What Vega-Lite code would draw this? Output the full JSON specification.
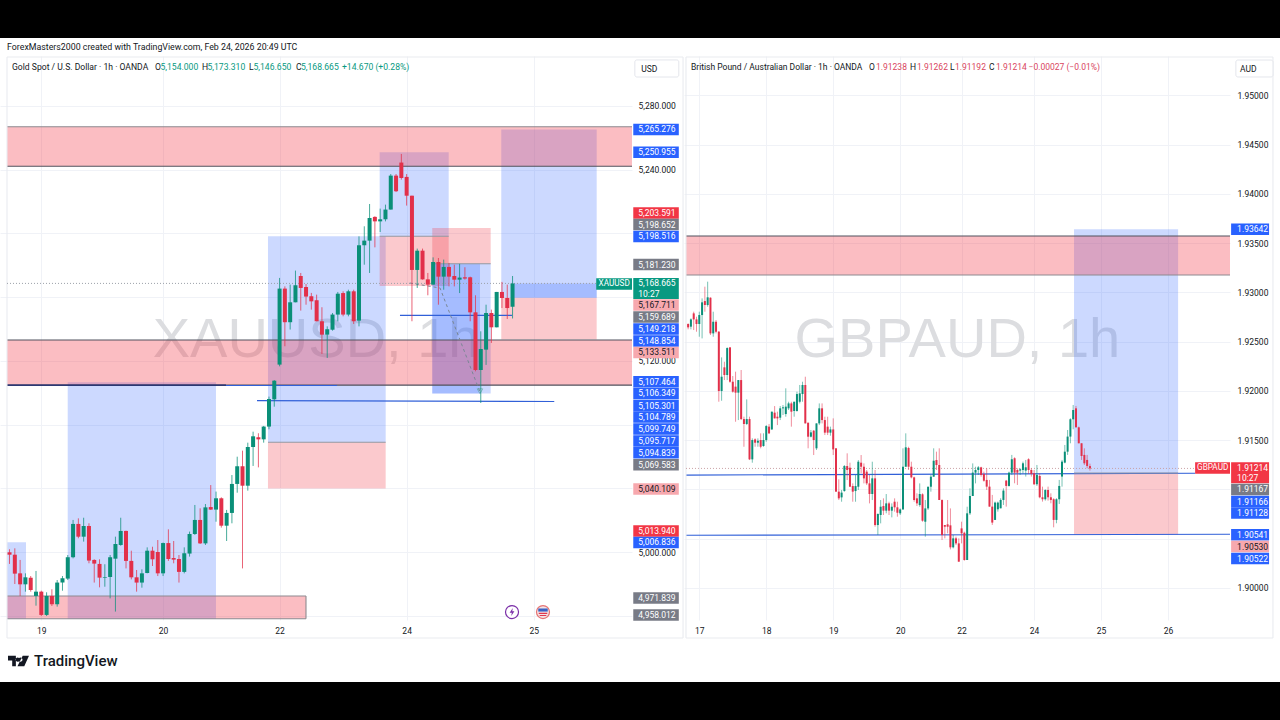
{
"$schema":"https://vega.github.io/schema/vega-lite/v6.json",
"background":"#ffffff",
"padding":0,
"spacing":0,
"config":{"view":{"stroke":null},"font":"Roboto","axis":{"domain":false,"ticks":false,"gridColor":"#f0f2f7","gridWidth":1,"labelColor":"#131722","labelFont":"Roboto","labelFontSize":8.5}},
"datasets":{
"gold":[
{"t":-6,"o":4999.9,"h":5001.8,"l":4992.6,"c":4998.4},{"t":-5,"o":4998.4,"h":5002.4,"l":4980.0,"c":4986.5},{"t":-4,"o":4986.7,"h":4995.1,"l":4972.5,"c":4979.8},{"t":-3,"o":4979.8,"h":4986.7,"l":4975.2,"c":4984.2},{"t":-2,"o":4984.0,"h":4985.0,"l":4975.2,"c":4976.3},{"t":-1,"o":4972.5,"h":4988.2,"l":4966.4,"c":4975.2},
{"t":0,"o":4975.2,"h":4975.8,"l":4959.9,"c":4960.6},{"t":1,"o":4960.6,"h":4974.8,"l":4959.9,"c":4972.5},{"t":2,"o":4972.5,"h":4976.7,"l":4966.2,"c":4967.3},{"t":3,"o":4967.3,"h":4982.5,"l":4965.8,"c":4980.9},{"t":4,"o":4980.9,"h":4985.0,"l":4975.8,"c":4983.6},{"t":5,"o":4983.4,"h":4998.2,"l":4982.5,"c":4996.8},{"t":6,"o":4996.8,"h":5020.2,"l":4996.1,"c":5017.7},{"t":7,"o":5017.7,"h":5021.2,"l":5008.7,"c":5009.7},{"t":8,"o":5009.7,"h":5021.6,"l":5006.6,"c":5016.4},{"t":9,"o":5016.4,"h":5018.1,"l":4993.0,"c":4994.7},
{"t":10,"o":4995.1,"h":4995.5,"l":4980.9,"c":4992.8},{"t":11,"o":4992.6,"h":4995.5,"l":4977.9,"c":4984.0},{"t":12,"o":4984.0,"h":4992.4,"l":4978.3,"c":4984.4},{"t":13,"o":4984.4,"h":4998.2,"l":4971.0,"c":4996.8},{"t":14,"o":4995.9,"h":5009.7,"l":4962.7,"c":5005.1},{"t":15,"o":5004.5,"h":5021.6,"l":5004.0,"c":5013.3},{"t":16,"o":5013.3,"h":5013.5,"l":4989.8,"c":4994.5},{"t":17,"o":4994.5,"h":5000.9,"l":4982.9,"c":4984.2},{"t":18,"o":4984.2,"h":4988.8,"l":4975.2,"c":4980.9},{"t":19,"o":4980.9,"h":4989.2,"l":4977.7,"c":4986.7},
{"t":20,"o":4986.9,"h":5003.0,"l":4986.7,"c":5000.9},{"t":21,"o":5000.9,"h":5003.4,"l":4991.3,"c":4995.5},{"t":22,"o":5000.1,"h":5007.6,"l":4985.0,"c":4986.7},{"t":23,"o":4986.7,"h":5006.0,"l":4985.0,"c":5005.7},{"t":24,"o":5005.7,"h":5014.3,"l":4994.5,"c":4995.7},{"t":25,"o":4996.3,"h":5007.0,"l":4993.0,"c":4995.3},{"t":26,"o":4995.7,"h":4998.2,"l":4980.9,"c":4987.6},{"t":27,"o":4987.6,"h":5003.0,"l":4986.7,"c":4999.3},{"t":28,"o":4999.1,"h":5012.9,"l":4997.2,"c":5011.4},{"t":29,"o":5011.4,"h":5029.6,"l":5010.8,"c":5020.2},
{"t":30,"o":5020.2,"h":5027.5,"l":5005.1,"c":5005.5},{"t":31,"o":5005.5,"h":5030.2,"l":5004.5,"c":5028.1},{"t":32,"o":5028.3,"h":5042.1,"l":5026.5,"c":5026.7},{"t":33,"o":5026.7,"h":5038.0,"l":5019.1,"c":5033.8},{"t":34,"o":5033.8,"h":5034.4,"l":5015.4,"c":5016.6},{"t":35,"o":5016.6,"h":5026.5,"l":5007.0,"c":5024.6},{"t":36,"o":5024.6,"h":5048.4,"l":5018.1,"c":5042.8},{"t":37,"o":5042.8,"h":5059.9,"l":5037.3,"c":5053.9},{"t":38,"o":5053.9,"h":5063.7,"l":4989.8,"c":5041.7},{"t":39,"o":5041.7,"h":5068.7,"l":5038.6,"c":5066.0},
{"t":40,"o":5066.0,"h":5075.6,"l":5054.1,"c":5072.7},{"t":41,"o":5072.1,"h":5074.6,"l":5053.2,"c":5070.8},{"t":42,"o":5070.8,"h":5079.2,"l":5068.7,"c":5078.8},{"t":43,"o":5078.8,"h":5097.6,"l":5077.1,"c":5096.1},{"t":44,"o":5095.9,"h":5108.0,"l":5091.3,"c":5107.6},{"t":45,"o":5117.7,"h":5172.1,"l":5116.6,"c":5165.4},{"t":46,"o":5165.4,"h":5166.8,"l":5129.2,"c":5144.3},{"t":47,"o":5144.3,"h":5167.9,"l":5139.7,"c":5156.8},{"t":48,"o":5156.8,"h":5176.7,"l":5156.8,"c":5167.5},{"t":49,"o":5173.3,"h":5175.2,"l":5151.6,"c":5165.8},
{"t":50,"o":5166.4,"h":5168.3,"l":5155.3,"c":5160.4},{"t":51,"o":5160.6,"h":5162.7,"l":5152.2,"c":5157.4},{"t":52,"o":5158.1,"h":5161.6,"l":5144.9,"c":5144.9},{"t":53,"o":5144.9,"h":5153.7,"l":5124.4,"c":5136.5},{"t":54,"o":5136.5,"h":5141.7,"l":5121.9,"c":5139.9},{"t":55,"o":5139.6,"h":5150.1,"l":5139.0,"c":5149.1},{"t":56,"o":5149.1,"h":5163.3,"l":5144.9,"c":5162.2},{"t":57,"o":5162.6,"h":5163.7,"l":5148.0,"c":5149.1},{"t":58,"o":5149.1,"h":5164.7,"l":5148.0,"c":5163.7},{"t":59,"o":5163.7,"h":5164.7,"l":5143.2,"c":5144.9},
{"t":60,"o":5145.3,"h":5198.2,"l":5141.7,"c":5192.6},{"t":61,"o":5192.6,"h":5204.5,"l":5180.4,"c":5195.5},{"t":62,"o":5195.5,"h":5218.5,"l":5175.2,"c":5209.7},{"t":63,"o":5210.4,"h":5210.8,"l":5191.3,"c":5207.6},{"t":64,"o":5207.6,"h":5215.6,"l":5200.9,"c":5208.9},{"t":65,"o":5208.9,"h":5218.1,"l":5207.6,"c":5215.0},{"t":66,"o":5215.0,"h":5237.3,"l":5215.0,"c":5236.3},{"t":67,"o":5236.3,"h":5237.3,"l":5226.0,"c":5226.5},{"t":68,"o":5244.5,"h":5249.9,"l":5233.8,"c":5234.8},{"t":69,"o":5235.5,"h":5237.3,"l":5217.5,"c":5223.7},
{"t":70,"o":5223.7,"h":5223.7,"l":5144.9,"c":5177.1},{"t":71,"o":5177.1,"h":5190.5,"l":5165.8,"c":5189.2},{"t":72,"o":5189.2,"h":5190.5,"l":5171.0,"c":5171.2},{"t":73,"o":5171.2,"h":5175.2,"l":5161.2,"c":5167.9},{"t":74,"o":5167.9,"h":5185.0,"l":5167.9,"c":5182.1},{"t":75,"o":5182.1,"h":5184.6,"l":5155.3,"c":5172.9},{"t":76,"o":5172.9,"h":5183.6,"l":5164.7,"c":5179.0},{"t":77,"o":5179.0,"h":5181.5,"l":5166.8,"c":5172.9},{"t":78,"o":5173.3,"h":5180.4,"l":5166.8,"c":5171.0},{"t":79,"o":5171.0,"h":5180.9,"l":5162.6,"c":5172.3},
{"t":80,"o":5172.5,"h":5178.8,"l":5171.0,"c":5171.7},{"t":81,"o":5172.5,"h":5172.9,"l":5144.9,"c":5150.5},{"t":82,"o":5150.5,"h":5161.2,"l":5113.5,"c":5114.3},{"t":83,"o":5114.3,"h":5138.6,"l":5093.6,"c":5127.5},{"t":84,"o":5127.1,"h":5155.3,"l":5117.5,"c":5150.1},{"t":85,"o":5150.1,"h":5152.2,"l":5131.3,"c":5141.1},{"t":86,"o":5141.1,"h":5163.3,"l":5141.1,"c":5163.3},{"t":87,"o":5163.3,"h":5169.6,"l":5153.2,"c":5159.5},{"t":88,"o":5159.5,"h":5167.9,"l":5146.3,"c":5153.2},{"t":89,"o":5154.0,"h":5173.31,"l":5146.65,"c":5168.665}
],
"gbp":[
{"t":-4,"o":1.9268,"h":1.92687,"l":1.92626,"c":1.92646},{"t":-3,"o":1.92653,"h":1.92737,"l":1.92626,"c":1.92727},{"t":-2,"o":1.92788,"h":1.92805,"l":1.92619,"c":1.92727},{"t":-1,"o":1.92727,"h":1.92754,"l":1.92602,"c":1.9268},
{"t":0,"o":1.9268,"h":1.92805,"l":1.92551,"c":1.92771},{"t":1,"o":1.92771,"h":1.9294,"l":1.92534,"c":1.929},{"t":2,"o":1.92913,"h":1.93059,"l":1.92805,"c":1.92873},{"t":3,"o":1.92873,"h":1.9311,"l":1.92856,"c":1.92951},{"t":4,"o":1.92947,"h":1.92951,"l":1.92568,"c":1.92585},{"t":5,"o":1.92585,"h":1.92805,"l":1.92551,"c":1.92703},{"t":6,"o":1.92703,"h":1.9272,"l":1.92585,"c":1.92602},{"t":7,"o":1.92602,"h":1.92609,"l":1.91891,"c":1.92},{"t":8,"o":1.92,"h":1.92341,"l":1.91901,"c":1.92145},{"t":9,"o":1.9224,"h":1.92297,"l":1.92111,"c":1.92162},
{"t":10,"o":1.92162,"h":1.92443,"l":1.92111,"c":1.92436},{"t":11,"o":1.92443,"h":1.92443,"l":1.92084,"c":1.92094},{"t":12,"o":1.92094,"h":1.92152,"l":1.91983,"c":1.91993},{"t":13,"o":1.92044,"h":1.92196,"l":1.91688,"c":1.91983},{"t":14,"o":1.91983,"h":1.92111,"l":1.91705,"c":1.92111},{"t":15,"o":1.92111,"h":1.92213,"l":1.91705,"c":1.91715},{"t":16,"o":1.91715,"h":1.91739,"l":1.91434,"c":1.91665},{"t":17,"o":1.91665,"h":1.91915,"l":1.91654,"c":1.91715},{"t":18,"o":1.91715,"h":1.91739,"l":1.91299,"c":1.91306},{"t":19,"o":1.91306,"h":1.91519,"l":1.91272,"c":1.91502},
{"t":20,"o":1.91509,"h":1.91519,"l":1.91434,"c":1.91475},{"t":21,"o":1.91475,"h":1.91519,"l":1.91434,"c":1.91495},{"t":22,"o":1.91502,"h":1.9157,"l":1.91418,"c":1.91434},{"t":23,"o":1.91441,"h":1.9157,"l":1.91434,"c":1.91502},{"t":24,"o":1.91502,"h":1.91654,"l":1.91485,"c":1.91644},{"t":25,"o":1.91638,"h":1.91665,"l":1.91563,"c":1.9157},{"t":26,"o":1.9161,"h":1.9179,"l":1.91604,"c":1.9179},{"t":27,"o":1.9178,"h":1.91847,"l":1.91722,"c":1.91722},{"t":28,"o":1.91739,"h":1.9179,"l":1.91654,"c":1.91722},{"t":29,"o":1.91729,"h":1.91847,"l":1.91705,"c":1.91824},
{"t":30,"o":1.91824,"h":1.91857,"l":1.91756,"c":1.91834},{"t":31,"o":1.91766,"h":1.92027,"l":1.91739,"c":1.91841},{"t":32,"o":1.91824,"h":1.91891,"l":1.91807,"c":1.91874},{"t":33,"o":1.91874,"h":1.91891,"l":1.91638,"c":1.9179},{"t":34,"o":1.91797,"h":1.91891,"l":1.91739,"c":1.91891},{"t":35,"o":1.91797,"h":1.91993,"l":1.9179,"c":1.91969},{"t":36,"o":1.91891,"h":1.92061,"l":1.91874,"c":1.91976},{"t":37,"o":1.91969,"h":1.92094,"l":1.91891,"c":1.92061},{"t":38,"o":1.92061,"h":1.92145,"l":1.91671,"c":1.91671},{"t":39,"o":1.91678,"h":1.91678,"l":1.91418,"c":1.91536},
{"t":40,"o":1.91536,"h":1.91604,"l":1.91529,"c":1.9158},{"t":41,"o":1.91597,"h":1.91604,"l":1.9135,"c":1.91502},{"t":42,"o":1.91418,"h":1.91671,"l":1.91401,"c":1.91671},{"t":43,"o":1.91671,"h":1.91874,"l":1.91654,"c":1.91824},{"t":44,"o":1.91824,"h":1.91874,"l":1.91671,"c":1.91705},{"t":45,"o":1.91705,"h":1.91739,"l":1.91553,"c":1.91577},{"t":46,"o":1.91638,"h":1.91739,"l":1.91553,"c":1.91577},{"t":47,"o":1.91577,"h":1.91638,"l":1.91546,"c":1.9161},{"t":48,"o":1.9161,"h":1.91722,"l":1.9135,"c":1.91407},{"t":49,"o":1.91418,"h":1.91418,"l":1.90978,"c":1.90978},
{"t":50,"o":1.90978,"h":1.91103,"l":1.90893,"c":1.9091},{"t":51,"o":1.9092,"h":1.90995,"l":1.90876,"c":1.90968},{"t":52,"o":1.90984,"h":1.91248,"l":1.90978,"c":1.91238},{"t":53,"o":1.91238,"h":1.91367,"l":1.91096,"c":1.91198},{"t":54,"o":1.91221,"h":1.91272,"l":1.91028,"c":1.91028},{"t":55,"o":1.91035,"h":1.91062,"l":1.90876,"c":1.90978},{"t":56,"o":1.90984,"h":1.91147,"l":1.90876,"c":1.91035},{"t":57,"o":1.91028,"h":1.91299,"l":1.90995,"c":1.91282},{"t":58,"o":1.91272,"h":1.9135,"l":1.91164,"c":1.91231},{"t":59,"o":1.91231,"h":1.91265,"l":1.91062,"c":1.91113},
{"t":60,"o":1.91181,"h":1.91198,"l":1.91045,"c":1.91062},{"t":61,"o":1.91062,"h":1.91147,"l":1.90859,"c":1.90954},{"t":62,"o":1.90954,"h":1.91282,"l":1.90893,"c":1.91113},{"t":63,"o":1.91113,"h":1.91198,"l":1.90622,"c":1.90639},{"t":64,"o":1.90639,"h":1.90758,"l":1.90538,"c":1.90751},{"t":65,"o":1.90741,"h":1.90893,"l":1.90656,"c":1.90825},{"t":66,"o":1.90832,"h":1.9091,"l":1.90741,"c":1.90785},{"t":67,"o":1.90785,"h":1.90954,"l":1.90758,"c":1.90859},{"t":68,"o":1.90859,"h":1.90876,"l":1.90741,"c":1.90785},{"t":69,"o":1.90785,"h":1.90859,"l":1.90717,"c":1.90825},
{"t":70,"o":1.90876,"h":1.9091,"l":1.90775,"c":1.90819},{"t":71,"o":1.90819,"h":1.90876,"l":1.90724,"c":1.90764},{"t":72,"o":1.90758,"h":1.90808,"l":1.90741,"c":1.90798},{"t":73,"o":1.90798,"h":1.91418,"l":1.90792,"c":1.91231},{"t":74,"o":1.91231,"h":1.9157,"l":1.91231,"c":1.91428},{"t":75,"o":1.91421,"h":1.91434,"l":1.91198,"c":1.91231},{"t":76,"o":1.91231,"h":1.91282,"l":1.91113,"c":1.91123},{"t":77,"o":1.91123,"h":1.9113,"l":1.90876,"c":1.90893},{"t":78,"o":1.9091,"h":1.90961,"l":1.90832,"c":1.90859},{"t":79,"o":1.90842,"h":1.91062,"l":1.90825,"c":1.90954},
{"t":80,"o":1.90951,"h":1.90961,"l":1.90673,"c":1.90683},{"t":81,"o":1.90673,"h":1.90893,"l":1.90521,"c":1.90808},{"t":82,"o":1.90808,"h":1.91028,"l":1.90792,"c":1.91028},{"t":83,"o":1.91028,"h":1.91147,"l":1.90978,"c":1.9113},{"t":84,"o":1.9113,"h":1.91418,"l":1.9113,"c":1.91292},{"t":85,"o":1.91299,"h":1.91384,"l":1.91198,"c":1.91248},{"t":86,"o":1.91248,"h":1.91418,"l":1.90893,"c":1.90893},{"t":87,"o":1.90893,"h":1.909,"l":1.90487,"c":1.90538},{"t":88,"o":1.90639,"h":1.90639,"l":1.90504,"c":1.90622},{"t":89,"o":1.90646,"h":1.90893,"l":1.90555,"c":1.90622},
{"t":90,"o":1.90636,"h":1.90808,"l":1.90392,"c":1.90413},{"t":91,"o":1.90413,"h":1.90538,"l":1.90402,"c":1.90504},{"t":92,"o":1.90504,"h":1.90521,"l":1.90436,"c":1.90453},{"t":93,"o":1.90453,"h":1.90504,"l":1.90267,"c":1.90267},{"t":94,"o":1.90605,"h":1.90673,"l":1.90453,"c":1.90555},{"t":95,"o":1.90561,"h":1.90572,"l":1.90277,"c":1.90284},{"t":96,"o":1.90284,"h":1.90825,"l":1.90284,"c":1.90758},{"t":97,"o":1.90758,"h":1.91012,"l":1.90741,"c":1.90934},{"t":98,"o":1.90934,"h":1.91265,"l":1.90934,"c":1.91171},{"t":99,"o":1.91171,"h":1.91231,"l":1.91062,"c":1.91198},
{"t":100,"o":1.91198,"h":1.91238,"l":1.91147,"c":1.91225},{"t":101,"o":1.91225,"h":1.91231,"l":1.9113,"c":1.91147},{"t":102,"o":1.91157,"h":1.91181,"l":1.91079,"c":1.91089},{"t":103,"o":1.91097,"h":1.91215,"l":1.90995,"c":1.91029},{"t":104,"o":1.91029,"h":1.91097,"l":1.90826,"c":1.90826},{"t":105,"o":1.90826,"h":1.90945,"l":1.9064,"c":1.90664},{"t":106,"o":1.90691,"h":1.90877,"l":1.90691,"c":1.90867},{"t":107,"o":1.90799,"h":1.90877,"l":1.90775,"c":1.90867},{"t":108,"o":1.90809,"h":1.90911,"l":1.90809,"c":1.90894},{"t":109,"o":1.90894,"h":1.91012,"l":1.90843,"c":1.90989},
{"t":110,"o":1.9109,"h":1.91097,"l":1.90826,"c":1.91036},{"t":111,"o":1.91036,"h":1.91181,"l":1.91029,"c":1.91171},{"t":112,"o":1.91171,"h":1.91351,"l":1.91148,"c":1.91307},{"t":113,"o":1.91317,"h":1.91327,"l":1.91063,"c":1.91171},{"t":114,"o":1.91198,"h":1.91215,"l":1.91046,"c":1.91171},{"t":115,"o":1.91192,"h":1.91215,"l":1.91148,"c":1.91205},{"t":116,"o":1.91198,"h":1.91283,"l":1.91164,"c":1.91266},{"t":117,"o":1.91192,"h":1.913,"l":1.91131,"c":1.91225},{"t":118,"o":1.91307,"h":1.91317,"l":1.91158,"c":1.91198},{"t":119,"o":1.91198,"h":1.91215,"l":1.91131,"c":1.91158},
{"t":120,"o":1.91164,"h":1.91198,"l":1.91046,"c":1.91053},{"t":121,"o":1.91053,"h":1.91249,"l":1.91036,"c":1.91148},{"t":122,"o":1.91137,"h":1.91164,"l":1.90911,"c":1.90921},{"t":123,"o":1.90921,"h":1.91029,"l":1.90877,"c":1.90901},{"t":124,"o":1.90901,"h":1.91002,"l":1.90887,"c":1.90995},{"t":125,"o":1.90995,"h":1.91029,"l":1.90887,"c":1.90921},{"t":126,"o":1.90921,"h":1.90961,"l":1.9086,"c":1.90894},{"t":127,"o":1.90901,"h":1.90911,"l":1.90616,"c":1.90691},{"t":128,"o":1.90691,"h":1.90911,"l":1.90657,"c":1.90901},{"t":129,"o":1.90901,"h":1.91097,"l":1.90853,"c":1.91036},
{"t":130,"o":1.91131,"h":1.913,"l":1.91029,"c":1.91283},{"t":131,"o":1.91273,"h":1.91452,"l":1.91266,"c":1.91384},{"t":132,"o":1.91384,"h":1.91604,"l":1.91351,"c":1.91537},{"t":133,"o":1.91537,"h":1.91723,"l":1.91469,"c":1.91713},{"t":134,"o":1.91713,"h":1.91858,"l":1.91611,"c":1.91807},{"t":135,"o":1.91824,"h":1.91848,"l":1.91631,"c":1.91631},{"t":136,"o":1.91631,"h":1.91638,"l":1.91469,"c":1.91469},{"t":137,"o":1.91469,"h":1.91469,"l":1.913,"c":1.9134},{"t":138,"o":1.91351,"h":1.91418,"l":1.91249,"c":1.91266},{"t":139,"o":1.913,"h":1.91351,"l":1.91215,"c":1.91239},{"t":140,"o":1.91238,"h":1.91262,"l":1.91192,"c":1.91214}
],
"goldSupply":[{"t":-6.48,"t2":111.56,"p":5267,"p2":5242.2},{"t":-6.48,"t2":111.56,"p":5133.1,"p2":5104.8},{"t":-6.48,"t2":49.99,"p":4972.5,"p2":4958.2}],
"goldBoxes":[
{"t":-6.48,"t2":-2.89,"p":5006.2,"p2":4958,"kind":"target"},
{"t":4.99,"t2":32.99,"p":5106.6,"p2":4958,"kind":"target"},
{"t":42.81,"t2":65.04,"p":5198.3,"p2":5069,"kind":"target"},
{"t":42.81,"t2":65.04,"p":5069,"p2":5040,"kind":"stop"},
{"t":63.9,"t2":76.94,"p":5250.9,"p2":5198.3,"kind":"target"},
{"t":63.9,"t2":76.94,"p":5198.3,"p2":5167,"kind":"stop"},
{"t":73.84,"t2":84.87,"p":5203.5,"p2":5181,"kind":"stop"},
{"t":73.84,"t2":84.87,"p":5181,"p2":5099.5,"kind":"target"},
{"t":73.84,"t2":82.85,"p":5181,"p2":5099.5,"kind":"target"},
{"t":86.87,"t2":104.89,"p":5265.2,"p2":5159.7,"kind":"target"},
{"t":86.87,"t2":104.89,"p":5159.7,"p2":5133.5,"kind":"stop"},
{"t":88.89,"t2":104.89,"p":5168.6,"p2":5159.7,"kind":"target"}
],
"goldLines":[
{"t":-6.48,"t2":111.56,"p":5267,"p2":5267,"kind":"soft"},
{"t":-6.48,"t2":111.56,"p":5242.2,"p2":5242.2,"kind":"edge"},
{"t":-6.48,"t2":111.56,"p":5133.1,"p2":5133.1,"kind":"edge"},
{"t":-6.48,"t2":111.56,"p":5104.8,"p2":5104.8,"kind":"edge"},
{"t":-6.48,"t2":49.99,"p":4972.5,"p2":4972.5,"kind":"soft"},
{"t":-6.48,"t2":49.99,"p":4958.2,"p2":4958.2,"kind":"soft"},
{"t":49.99,"t2":49.99,"p":4972.5,"p2":4958.2,"kind":"soft"},
{"t":-6.48,"t2":34.88,"p":5104.8,"p2":5104.8,"kind":"navy"},
{"t":34.88,"t2":55.85,"p":5104.6,"p2":5104.6,"kind":"blue"},
{"t":40.74,"t2":96.88,"p":5095.1,"p2":5094.5,"kind":"blue"},
{"t":67.74,"t2":88.89,"p":5148.6,"p2":5148.6,"kind":"blue"},
{"t":42.81,"t2":65.04,"p":5069,"p2":5069,"kind":"gray"},
{"t":63.9,"t2":76.94,"p":5198.3,"p2":5198.3,"kind":"gray"},
{"t":73.84,"t2":84.87,"p":5181,"p2":5181,"kind":"gray"},
{"t":-6.48,"t2":121.2,"p":5310.75,"p2":5310.75,"kind":"frame"},
{"t":-6.48,"t2":121.2,"p":4946.1,"p2":4946.1,"kind":"frame"},
{"t":-6.48,"t2":-6.48,"p":5310.75,"p2":4946.1,"kind":"frame"},
{"t":121.2,"t2":121.2,"p":5310.75,"p2":4946.1,"kind":"frame"}
],
"goldArrow":[{"t":69.6,"p":5168.9},{"t":75.3,"p":5165.8},{"t":82.85,"p":5100.5}],
"goldTags":[
{"t":111.8,"t2":120.4,"p":5265.276,"label":"5,265.276","kind":"blue"},{"t":111.8,"t2":120.4,"p":5250.955,"label":"5,250.955","kind":"blue"},{"t":111.8,"t2":120.4,"p":5212.8,"label":"5,203.591","kind":"red"},{"t":111.8,"t2":120.4,"p":5205.6,"label":"5,198.652","kind":"gray"},{"t":111.8,"t2":120.4,"p":5198.1,"label":"5,198.516","kind":"blue"},{"t":111.8,"t2":120.4,"p":5180.5,"label":"5,181.230","kind":"gray"},{"t":111.8,"t2":120.4,"p":5155.1,"label":"5,167.711","kind":"pale"},{"t":111.8,"t2":120.4,"p":5147.6,"label":"5,159.689","kind":"gray"},{"t":111.8,"t2":120.4,"p":5140.0,"label":"5,149.218","kind":"blue"},{"t":111.8,"t2":120.4,"p":5132.5,"label":"5,148.854","kind":"blue"},{"t":111.8,"t2":120.4,"p":5125.3,"label":"5,133.511","kind":"pale"},{"t":111.8,"t2":120.4,"p":5107.0,"label":"5,107.464","kind":"blue"},{"t":111.8,"t2":120.4,"p":5099.6,"label":"5,106.349","kind":"blue"},{"t":111.8,"t2":120.4,"p":5092.0,"label":"5,105.301","kind":"blue"},{"t":111.8,"t2":120.4,"p":5084.8,"label":"5,104.789","kind":"blue"},{"t":111.8,"t2":120.4,"p":5077.3,"label":"5,099.749","kind":"blue"},{"t":111.8,"t2":120.4,"p":5069.8,"label":"5,095.717","kind":"blue"},{"t":111.8,"t2":120.4,"p":5062.4,"label":"5,094.839","kind":"blue"},{"t":111.8,"t2":120.4,"p":5054.9,"label":"5,069.583","kind":"gray"},{"t":111.8,"t2":120.4,"p":5039.6,"label":"5,040.109","kind":"pale"},{"t":111.8,"t2":120.4,"p":5013.3,"label":"5,013.940","kind":"red"},{"t":111.8,"t2":120.4,"p":5006.1,"label":"5,006.836","kind":"blue"},{"t":111.8,"t2":120.4,"p":4971.2,"label":"4,971.839","kind":"gray"},{"t":111.8,"t2":120.4,"p":4960.5,"label":"4,958.012","kind":"gray"}
],
"goldLegend":[
{"t":-5.53,"p":5304.5,"label":"Gold Spot / U.S. Dollar · 1h · OANDA","kind":"dark"},
{"t":21.47,"p":5304.5,"label":"O","kind":"dark"},{"t":22.51,"p":5304.5,"label":"5,154.000","kind":"up"},
{"t":30.35,"p":5304.5,"label":"H","kind":"dark"},{"t":31.39,"p":5304.5,"label":"5,173.310","kind":"up"},
{"t":39.23,"p":5304.5,"label":"L","kind":"dark"},{"t":40.08,"p":5304.5,"label":"5,146.650","kind":"up"},
{"t":48.1,"p":5304.5,"label":"C","kind":"dark"},{"t":49.05,"p":5304.5,"label":"5,168.665","kind":"up"},
{"t":56.79,"p":5304.5,"label":"+14.670 (+0.28%)","kind":"up"}
],
"gbpLines":[
{"t":-4.77,"t2":190.2,"p":1.93574,"p2":1.93574,"kind":"edge"},
{"t":-4.77,"t2":190.2,"p":1.93178,"p2":1.93178,"kind":"soft"},
{"t":-4.77,"t2":177.7,"p":1.91146,"p2":1.91165,"kind":"blue"},
{"t":-4.77,"t2":190.2,"p":1.90535,"p2":1.90545,"kind":"blue"},
{"t":134.3,"t2":171.6,"p":1.91167,"p2":1.91167,"kind":"gray"},
{"t":-4.77,"t2":205.6,"p":1.95391,"p2":1.95391,"kind":"frame"},
{"t":-4.77,"t2":205.6,"p":1.89492,"p2":1.89492,"kind":"frame"},
{"t":-4.77,"t2":-4.77,"p":1.95391,"p2":1.89492,"kind":"frame"},
{"t":205.6,"t2":205.6,"p":1.95391,"p2":1.89492,"kind":"frame"}
],
"gbpTags":[
{"t":190.6,"t2":204.2,"p":1.93642,"label":"1.93642","kind":"blue"},{"t":190.6,"t2":204.2,"p":1.91,"label":"1.91167","kind":"gray"},{"t":190.6,"t2":204.2,"p":1.90878,"label":"1.91166","kind":"blue"},{"t":190.6,"t2":204.2,"p":1.90761,"label":"1.91128","kind":"blue"},{"t":190.6,"t2":204.2,"p":1.90541,"label":"1.90541","kind":"blue"},{"t":190.6,"t2":204.2,"p":1.90421,"label":"1.90530","kind":"pale"},{"t":190.6,"t2":204.2,"p":1.90299,"label":"1.90522","kind":"blue"}
],
"gbpLegend":[
{"t":-2.97,"p":1.95289,"label":"British Pound / Australian Dollar · 1h · OANDA","kind":"dark"},
{"t":60.82,"p":1.95289,"label":"O","kind":"dark"},{"t":63.33,"p":1.95289,"label":"1.91238","kind":"down"},
{"t":75.52,"p":1.95289,"label":"H","kind":"dark"},{"t":78.03,"p":1.95289,"label":"1.91262","kind":"down"},
{"t":89.86,"p":1.95289,"label":"L","kind":"dark"},{"t":91.65,"p":1.95289,"label":"1.91192","kind":"down"},
{"t":103.8,"p":1.95289,"label":"C","kind":"dark"},{"t":106.3,"p":1.95289,"label":"1.91214","kind":"down"},
{"t":118,"p":1.95289,"label":"−0.00027 (−0.01%)","kind":"down"}
]
},
"vconcat":[
{"width":1280,"height":38,"view":{"fill":"#000000","stroke":null},"data":{"values":[{"s":""}]},"mark":"text","encoding":{"text":{"field":"s"}}},
{"width":1280,"height":18,"data":{"values":[{"x":0.0055,"label":"ForexMasters2000 created with TradingView.com, Feb 24, 2026 20:49 UTC"}]},
 "mark":{"type":"text","align":"left","baseline":"middle","fontSize":8.8,"color":"#131722"},
 "encoding":{"x":{"field":"x","type":"quantitative","scale":{"domain":[0,1]},"axis":null},"text":{"field":"label"}}},
{"hconcat":[
{"width":632,"height":564,
 "encoding":{
  "x":{"field":"t","type":"quantitative","scale":{"domain":[-7.8,111.56],"nice":false,"zero":false,"padding":0},"axis":{"title":null,"values":[0,23,45,69,93],"labelExpr":"{'0':'19','23':'20','45':'22','69':'24','93':'25'}[datum.value]","grid":true,"labelPadding":6,"minExtent":20,"maxExtent":20,"labelFlush":false}},
  "y":{"field":"p","type":"quantitative","scale":{"domain":[4957.41,5311.38],"nice":false,"zero":false,"padding":0},"axis":{"title":null,"orient":"right","labelOverlap":false,"values":[4960,4980,5000,5020,5040,5060,5080,5100,5120,5140,5160,5180,5200,5220,5240,5260,5280,5300],"labelExpr":"indexof([4980,5000,5020,5120,5220,5240,5260,5280],datum.value)>=0?format(datum.value,',.3f'):''","grid":true,"labelPadding":6,"minExtent":52,"maxExtent":52}}
 },
 "layer":[
  {"data":{"values":[{"t":51.9,"p":5133,"label":"XAUUSD, 1h"}]},"mark":{"type":"text","fontSize":56,"font":"Liberation Sans","color":"#dcdde0","baseline":"middle"},"encoding":{"text":{"field":"label"}}},
  {"data":{"name":"goldBoxes"},"mark":"rect","encoding":{"x2":{"field":"t2"},"y2":{"field":"p2"},"fill":{"field":"kind","scale":{"domain":["target","stop","blue","gray","red","pale"],"range":["rgba(41,98,255,0.24)","rgba(242,54,69,0.27)","#2962ff","#787b86","#f23645","#f7a8ae"]},"legend":null}}},
  {"data":{"name":"goldSupply"},"mark":{"type":"rect","fill":"rgba(242,54,69,0.33)"},"encoding":{"x2":{"field":"t2"},"y2":{"field":"p2"}}},
  {"data":{"name":"goldLines"},"mark":{"type":"rule","strokeWidth":1.1},"encoding":{"x2":{"field":"t2"},"y2":{"field":"p2"},"stroke":{"field":"kind","scale":{"domain":["navy","blue","gray","frame","edge","soft"],"range":["#14246e","#3160d8","#9598a1","#e9ebf0","#50535e","#8d8a90"]},"legend":null}}},
  {"data":{"values":[{"t":-6.48,"t2":104.8,"p":5168.665}]},"mark":{"type":"rule","strokeWidth":1,"strokeDash":[1,2],"color":"#9aa0a8"},"encoding":{"x2":{"field":"t2"}}},
  {"data":{"name":"goldArrow"},"mark":{"type":"line","strokeWidth":1,"strokeDash":[3,3],"color":"#7a8794"}},
  {"data":{"values":[{"t":82.85,"p":5101}]},"mark":{"type":"point","shape":"triangle-down","size":30,"color":"#5fa8a0","strokeWidth":1}},
  {"data":{"name":"gold"},"mark":{"type":"rule","strokeWidth":1,"opacity":0.75},"encoding":{"y":{"field":"h","type":"quantitative","axis":{"title":null}},"y2":{"field":"l"},"color":{"condition":{"test":"datum.c>=datum.o","value":"#0a8f78"},"value":"#e2304a"}}},
  {"data":{"name":"gold"},"mark":{"type":"bar","size":4,"orient":"vertical"},"encoding":{"y":{"field":"o","type":"quantitative","axis":{"title":null}},"y2":{"field":"c"},"color":{"condition":{"test":"datum.c>=datum.o","value":"#0a8f78"},"value":"#e2304a"}}},
  {"data":{"values":[{"t":104.8,"t2":111.56,"p":5168.3}]},"mark":{"type":"bar","orient":"horizontal","size":11.5,"color":"#089981"},"encoding":{"x2":{"field":"t2"}}},
  {"data":{"values":[{"t":108.2,"p":5168.3,"label":"XAUUSD"}]},"mark":{"type":"text","fontSize":8.2,"color":"#ffffff","baseline":"middle"},"encoding":{"text":{"field":"label"}}},
  {"data":{"values":[{"t":111.8,"t2":120.4,"p":5165.5}]},"mark":{"type":"bar","orient":"horizontal","size":21,"color":"#089981"},"encoding":{"x2":{"field":"t2"}}},
  {"data":{"values":[{"t":111.8,"p":5168.6,"label":"5,168.665"},{"t":111.8,"p":5162.3,"label":"10:27"}]},"mark":{"type":"text","fontSize":8.5,"color":"#ffffff","baseline":"middle","align":"left","dx":5},"encoding":{"text":{"field":"label"}}},
  {"data":{"name":"goldTags"},"mark":{"type":"bar","orient":"horizontal","size":11.5},"encoding":{"x2":{"field":"t2"},"fill":{"field":"kind","scale":{"domain":["target","stop","blue","gray","red","pale"],"range":["rgba(41,98,255,0.24)","rgba(242,54,69,0.27)","#2962ff","#787b86","#f23645","#f7a8ae"]},"legend":null}}},
  {"data":{"name":"goldTags"},"mark":{"type":"text","fontSize":8.5,"baseline":"middle","align":"left","dx":5},"encoding":{"text":{"field":"label"},"color":{"condition":{"test":"datum.kind=='pale'","value":"#131722"},"value":"#ffffff"}}},
  {"data":{"name":"goldLegend"},"mark":{"type":"text","fontSize":8.6,"align":"left","baseline":"middle"},"encoding":{"text":{"field":"label"},"color":{"condition":{"test":"datum.kind=='up'","value":"#089981"},"value":"#131722"}}},
  {"data":{"values":[{"t":112.1,"t2":120.4,"p":5308.9,"p2":5298.2}]},"mark":{"type":"rect","fill":"#ffffff","stroke":"#e4e6ec","cornerRadius":2},"encoding":{"x2":{"field":"t2"},"y2":{"field":"p2"}}},
  {"data":{"values":[{"t":113.3,"p":5303.5,"label":"USD"}]},"mark":{"type":"text","fontSize":8.5,"align":"left","baseline":"middle","color":"#131722"},"encoding":{"text":{"field":"label"}}},
  {"data":{"values":[{"t":88.9,"p":4962.4}]},"mark":{"type":"point","shape":"circle","size":170,"color":"#7b2fa8","strokeWidth":1.2,"fill":"#ffffff","fillOpacity":1}},
  {"data":{"values":[{"t":88.9,"p":4962.4}]},"mark":{"type":"point","shape":"M.2 -1L-.6 .2H-.05L-.2 1L.6 -.2H.05Z","size":64,"filled":true,"color":"#7b2fa8","opacity":1}},
  {"data":{"values":[{"t":94.75,"p":4962.4}]},"mark":{"type":"point","shape":"circle","size":170,"color":"#e57373","strokeWidth":1.2,"fill":"#f3e3e6","fillOpacity":1}},
  {"data":{"values":[{"t":94.75,"p":4962.4}]},"mark":{"type":"point","shape":"M-1 -.75H1V-.1H-1Z","size":90,"filled":true,"color":"#3a62c4","opacity":1}},
  {"data":{"values":[{"t":94.75,"p":4962.4}]},"mark":{"type":"point","shape":"M-.9 .15H.9V.4H-.9ZM-.7 .6H.7V.85H-.7Z","size":90,"filled":true,"color":"#e0384e","opacity":1}}
 ]
},
{"width":546,"height":564,
 "encoding":{
  "x":{"field":"t","type":"quantitative","scale":{"domain":[-5.48,190.2],"nice":false,"zero":false,"padding":0},"axis":{"title":null,"values":[0,24,48,72,94,120,144,168],"labelExpr":"{'0':'17','24':'18','48':'19','72':'20','94':'22','120':'24','144':'25','168':'26'}[datum.value]","grid":true,"labelPadding":6,"minExtent":20,"maxExtent":20,"labelFlush":false}},
  "y":{"field":"p","type":"quantitative","scale":{"domain":[1.89675,1.95401],"nice":false,"zero":false,"padding":0},"axis":{"title":null,"orient":"right","labelOverlap":false,"values":[1.9,1.905,1.91,1.915,1.92,1.925,1.93,1.935,1.94,1.945,1.95],"labelExpr":"datum.value>1.9045&&datum.value<1.9105?'':format(datum.value,'.5f')","grid":true,"labelPadding":7,"minExtent":50,"maxExtent":50}}
 },
 "layer":[
  {"data":{"values":[{"t":92.5,"p":1.9252,"label":"GBPAUD, 1h"}]},"mark":{"type":"text","fontSize":56,"font":"Liberation Sans","color":"#dcdde0","baseline":"middle"},"encoding":{"text":{"field":"label"}}},
  {"data":{"values":[{"t":134.3,"t2":171.6,"p":1.93642,"p2":1.91167,"kind":"target"},{"t":134.3,"t2":171.6,"p":1.91167,"p2":1.90541,"kind":"stop"}]},"mark":"rect","encoding":{"x2":{"field":"t2"},"y2":{"field":"p2"},"fill":{"field":"kind","scale":{"domain":["target","stop","blue","gray","pale"],"range":["rgba(41,98,255,0.24)","rgba(242,54,69,0.27)","#2962ff","#787b86","#f7a8ae"]},"legend":null}}},
  {"data":{"values":[{"t":-4.77,"t2":190.2,"p":1.93574,"p2":1.93178}]},"mark":{"type":"rect","fill":"rgba(242,54,69,0.33)"},"encoding":{"x2":{"field":"t2"},"y2":{"field":"p2"}}},
  {"data":{"name":"gbpLines"},"mark":{"type":"rule","strokeWidth":1.1},"encoding":{"x2":{"field":"t2"},"y2":{"field":"p2"},"stroke":{"field":"kind","scale":{"domain":["blue","gray","frame","edge","soft"],"range":["#2a57c8","#9598a1","#e9ebf0","#50535e","#a09a9c"]},"legend":null}}},
  {"data":{"values":[{"t":-4.77,"t2":177.7,"p":1.91214}]},"mark":{"type":"rule","strokeWidth":1,"strokeDash":[1,2],"color":"#c9a0a4"},"encoding":{"x2":{"field":"t2"}}},
  {"data":{"name":"gbp"},"mark":{"type":"rule","strokeWidth":1,"opacity":0.55},"encoding":{"y":{"field":"h","type":"quantitative","axis":{"title":null}},"y2":{"field":"l"},"color":{"condition":{"test":"datum.c>=datum.o","value":"#0a8f78"},"value":"#e2304a"}}},
  {"data":{"name":"gbp"},"mark":{"type":"bar","size":2,"orient":"vertical"},"encoding":{"y":{"field":"o","type":"quantitative","axis":{"title":null}},"y2":{"field":"c"},"color":{"condition":{"test":"datum.c>=datum.o","value":"#0a8f78"},"value":"#e2304a"}}},
  {"data":{"values":[{"t":177.7,"t2":190.2,"p":1.91218}]},"mark":{"type":"bar","orient":"horizontal","size":11.5,"color":"#f23645"},"encoding":{"x2":{"field":"t2"}}},
  {"data":{"values":[{"t":184,"p":1.91218,"label":"GBPAUD"}]},"mark":{"type":"text","fontSize":8.2,"color":"#ffffff","baseline":"middle"},"encoding":{"text":{"field":"label"}}},
  {"data":{"values":[{"t":190.6,"t2":204.2,"p":1.91171}]},"mark":{"type":"bar","orient":"horizontal","size":21,"color":"#f23645"},"encoding":{"x2":{"field":"t2"}}},
  {"data":{"values":[{"t":190.6,"p":1.91218,"label":"1.91214"},{"t":190.6,"p":1.91117,"label":"10:27"}]},"mark":{"type":"text","fontSize":8.5,"color":"#ffffff","baseline":"middle","align":"left","dx":6},"encoding":{"text":{"field":"label"}}},
  {"data":{"name":"gbpTags"},"mark":{"type":"bar","orient":"horizontal","size":11.5},"encoding":{"x2":{"field":"t2"},"fill":{"field":"kind","scale":{"domain":["target","stop","blue","gray","pale"],"range":["rgba(41,98,255,0.24)","rgba(242,54,69,0.27)","#2962ff","#787b86","#f7a8ae"]},"legend":null}}},
  {"data":{"name":"gbpTags"},"mark":{"type":"text","fontSize":8.5,"baseline":"middle","align":"left","dx":6},"encoding":{"text":{"field":"label"},"color":{"condition":{"test":"datum.kind=='pale'","value":"#131722"},"value":"#ffffff"}}},
  {"data":{"name":"gbpLegend"},"mark":{"type":"text","fontSize":8.5,"align":"left","baseline":"middle"},"encoding":{"text":{"field":"label"},"color":{"condition":{"test":"datum.kind=='down'","value":"#d9455e"},"value":"#131722"}}},
  {"data":{"values":[{"t":192.3,"t2":205.6,"p":1.9536,"p2":1.95188}]},"mark":{"type":"rect","fill":"#ffffff","stroke":"#e4e6ec","cornerRadius":2},"encoding":{"x2":{"field":"t2"},"y2":{"field":"p2"}}},
  {"data":{"values":[{"t":193.8,"p":1.95274,"label":"AUD"}]},"mark":{"type":"text","fontSize":8.5,"align":"left","baseline":"middle","color":"#131722"},"encoding":{"text":{"field":"label"}}}
 ]
}
],"spacing":0},
{"width":1280,"height":42,
 "encoding":{"x":{"field":"x","type":"quantitative","scale":{"domain":[0,1]},"axis":null}},
 "layer":[
  {"data":{"values":[{"x":0.01445}]},"mark":{"type":"point","shape":"M-1 -.5H-.25V.5H-.6V-.05H-1ZM.05 -.28A.2 .2 0 1 0 .05 .02A.2 .2 0 1 0 .05 -.28ZM.4 -.5H1L.55 .5H-.1Z","size":441,"filled":true,"color":"#131722","opacity":1}},
  {"data":{"values":[{"x":0.0266,"label":"TradingView"}]},"mark":{"type":"text","align":"left","baseline":"middle","fontSize":15,"fontWeight":500,"color":"#131722"},"encoding":{"text":{"field":"label"}}}
 ]},
{"width":1280,"height":38,"view":{"fill":"#000000","stroke":null},"data":{"values":[{"s":""}]},"mark":"text","encoding":{"text":{"field":"s"}}}
]
}
